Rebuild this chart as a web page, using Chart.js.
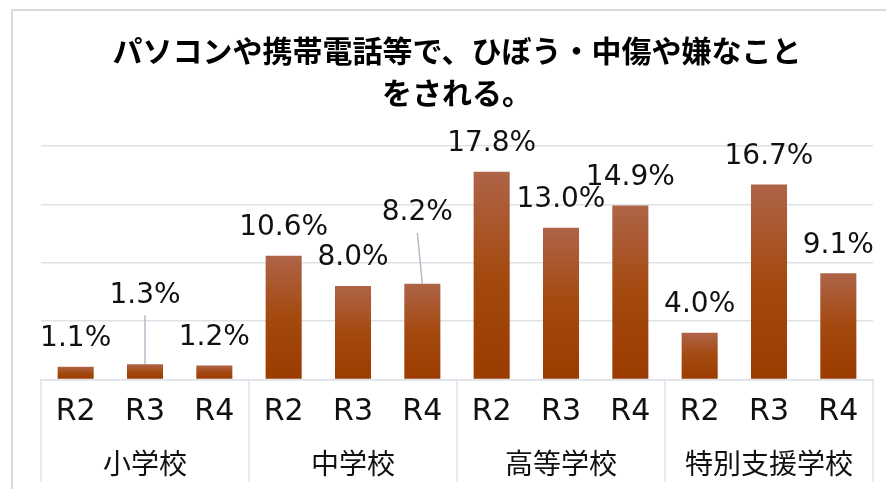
<!DOCTYPE html>
<html lang="ja">
<head>
<meta charset="utf-8">
<title>ネットいじめの割合</title>
<script src="https://cdn.jsdelivr.net/npm/chart.js@4.4.1/dist/chart.umd.min.js"></script>
<style>
  html, body { margin: 0; padding: 0; background: #fff; }
  #wrap { position: relative; width: 886px; height: 489px; }
</style>
</head>
<body>
<div id="wrap"><canvas id="chart"></canvas></div>
<script>
// 年度ごとのラベル（各校種で R2〜R4）
const years = ['R2', 'R3', 'R4'];
const schools = ['小学校', '中学校', '高等学校', '特別支援学校'];
const categories = schools.flatMap(() => years);

// 割合（%）
const rates = [1.1, 1.3, 1.2, 10.6, 8.0, 8.2, 17.8, 13.0, 14.9, 4.0, 16.7, 9.1];

const yTicks = { min: 0, max: 20, step: 5 };

const JP = "'Noto Sans CJK JP', sans-serif";
const LATIN = "'DejaVu Sans', 'Noto Sans CJK JP', sans-serif";
const GRID = '#dde1e8';

// ラベル位置の微調整（引き出し線つき）
const labelNudge = {
  1: { dx: 0, dy: -41 },
  5: { dx: -5, dy: -43 }
};

function barFill(ctx) {
  const chart = ctx.chart;
  if (!chart.chartArea || ctx.type !== 'data') return '#a3480f';
  const y = chart.scales.y;
  const top = y.getPixelForValue(rates[ctx.dataIndex]);
  const base = y.getPixelForValue(0);
  const g = chart.ctx.createLinearGradient(0, top, 0, base);
  g.addColorStop(0, '#ae6448');
  g.addColorStop(0.5, '#a4490f');
  g.addColorStop(1, '#993c00');
  return g;
}

// 外枠
const frame = {
  id: 'frame',
  beforeDraw(chart) {
    const c = chart.ctx;
    c.save();
    c.fillStyle = '#fff';
    c.fillRect(0, 0, chart.width, chart.height);
    c.strokeStyle = '#d9d9d9';
    c.lineWidth = 2;
    c.strokeRect(12, 10, chart.width + 20, chart.height + 20);
    c.restore();
  }
};

// 校種の区切り線
const groupLines = {
  id: 'groupLines',
  afterDraw(chart) {
    const x = chart.scales.x;
    const x2 = chart.scales.x2;
    const c = chart.ctx;
    const edges = [chart.chartArea.left];
    for (let i = years.length; i < categories.length; i += years.length) {
      edges.push((x.getPixelForValue(i - 1) + x.getPixelForValue(i)) / 2);
    }
    edges.push(chart.chartArea.right);
    c.save();
    c.strokeStyle = GRID;
    c.lineWidth = 1.5;
    edges.forEach(px => {
      c.beginPath();
      c.moveTo(px, chart.chartArea.bottom);
      c.lineTo(px, x2.bottom);
      c.stroke();
    });
    c.restore();
  }
};

// 値ラベル
const valueLabels = {
  id: 'valueLabels',
  afterDatasetsDraw(chart) {
    const c = chart.ctx;
    const bars = chart.getDatasetMeta(0).data;
    c.save();
    c.font = '28px ' + LATIN;
    c.fillStyle = '#111';
    c.textAlign = 'center';
    c.textBaseline = 'middle';
    bars.forEach((bar, i) => {
      const n = labelNudge[i] || { dx: 0, dy: 0 };
      const lx = bar.x + n.dx;
      const ly = bar.y - 28 + n.dy;
      if (labelNudge[i]) {
        c.strokeStyle = '#b3bdcb';
        c.lineWidth = 1.5;
        c.beginPath();
        c.moveTo(lx, ly + 20);
        c.lineTo(bar.x, bar.y);
        c.stroke();
      }
      c.fillText(rates[i].toFixed(1) + '%', lx, ly);
    });
    c.restore();
  }
};

new Chart(document.getElementById('chart'), {
  type: 'bar',
  data: {
    labels: categories,
    datasets: [{
      data: rates,
      backgroundColor: barFill,
      borderWidth: 0,
      categoryPercentage: 1,
      barPercentage: 0.52
    }]
  },
  options: {
    responsive: true,
    maintainAspectRatio: false,
    animation: false,
    layout: { padding: { left: 41, right: 13, top: 0, bottom: 7.5 } },
    plugins: {
      legend: { display: false },
      tooltip: { enabled: false },
      title: {
        display: true,
        text: ['パソコンや携帯電話等で、ひぼう・中傷や嫌なこと', 'をされる。'],
        color: '#000',
        font: { family: JP, size: 30, weight: 'bold', lineHeight: 1.4 },
        padding: { top: 30, bottom: 32 }
      }
    },
    scales: {
      y: {
        min: yTicks.min,
        max: yTicks.max,
        ticks: { display: false, stepSize: yTicks.step },
        grid: { color: GRID, lineWidth: 1.5, drawTicks: false },
        border: { display: false }
      },
      x: {
        weight: 0,
        grid: { display: false, drawTicks: false },
        border: { display: true, color: GRID, width: 1.5 },
        ticks: { color: '#111', padding: 14.5, font: { family: LATIN, size: 30, lineHeight: 1.2 } }
      },
      x2: {
        type: 'category',
        position: 'bottom',
        weight: 1,
        labels: schools,
        offset: true,
        grid: { display: false, drawTicks: false },
        border: { display: false },
        ticks: { color: '#111', padding: 1.7, font: { family: JP, size: 28, lineHeight: 1.2 } }
      }
    }
  },
  plugins: [frame, groupLines, valueLabels]
});
</script>
</body>
</html>
